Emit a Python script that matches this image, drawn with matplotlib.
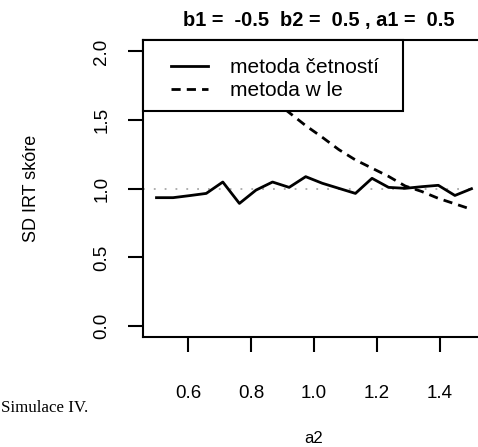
import numpy as np
import matplotlib
matplotlib.use("Agg")
import matplotlib.pyplot as plt
from matplotlib.patches import Rectangle

plt.rcParams['font.family'] = ['Liberation Sans', 'DejaVu Sans']

# a2 grid, 20 points from 0.5 to 1.5
a2 = [0.5, 0.5526, 0.6053, 0.6579, 0.7105, 0.7632, 0.8158, 0.8684, 0.9211, 0.9737,
      1.0263, 1.0789, 1.1316, 1.1842, 1.2368, 1.2895, 1.3421, 1.3947, 1.4474, 1.5]
sd_cetnosti = [0.935, 0.935, 0.95, 0.966, 1.049, 0.893, 0.99, 1.049, 1.01, 1.088,
               1.04, 1.003, 0.966, 1.076, 1.01, 1.003, 1.015, 1.025, 0.951, 1.0]
sd_wle = [2.36, 2.25, 2.14, 2.04, 1.94, 1.85, 1.75, 1.65, 1.555, 1.46,
          1.375, 1.285, 1.21, 1.15, 1.09, 1.02, 0.98, 0.93, 0.89, 0.85]
xticks = [0.6, 0.8, 1.0, 1.2, 1.4]
yticks = [0.0, 0.5, 1.0, 1.5, 2.0]
legend_labels = ["metoda četností", "metoda w le"]
title = "b1 =  -0.5  b2 =  0.5 , a1 =  0.5"

fig = plt.figure(figsize=(4.78, 4.47), dpi=100)
ax = fig.add_axes([0.3002, 0.2461, 0.7123, 0.6633])

ax.axhline(1.0, color="#a8a8a8", lw=1.3, linestyle=(0, (1, 5)), zorder=1)
ax.plot(a2, sd_cetnosti, color="black", lw=2, label=legend_labels[0], zorder=2)
ax.plot(a2, sd_wle, color="black", lw=2, dashes=(3.3, 2.2), label=legend_labels[1], zorder=2)

ax.set_xlim(0.4587, 1.5397)
ax.set_ylim(-0.08, 2.08)
ax.set_xticks(xticks)
ax.set_xticklabels(["%.1f" % v for v in xticks])
ax.set_yticks(yticks)
ax.set_yticklabels(["%.1f" % v for v in yticks], rotation=90, va="center")
ax.tick_params(axis="both", direction="out", length=11, width=1.5, labelsize=13.5)
ax.tick_params(axis="x", pad=23.5)
ax.tick_params(axis="y", pad=13)
for s in ax.spines.values():
    s.set_linewidth(1.5)

ax.set_xlabel("a2", fontsize=12, va="center")
ax.xaxis.set_label_coords(0.5, -0.342)
ax.set_ylabel("SD IRT skóre", fontsize=13, va="center")
ax.yaxis.set_label_coords(-0.33, 0.5)

ax.text(0.515, 1.066, title, transform=ax.transAxes, ha="center", va="center",
        fontsize=14.4, fontweight="bold")

# legend box (white, covers the lines like R's legend)
ax.add_patch(Rectangle((0, 0.762), 0.762, 0.238, transform=ax.transAxes,
                       facecolor="white", edgecolor="black", lw=1.5,
                       zorder=3, clip_on=False))
leg = ax.legend(loc="upper left", bbox_to_anchor=(0.056, 0.968), borderaxespad=0,
                frameon=False, fontsize=15, handlelength=1.78, handletextpad=1.06,
                borderpad=0.4, labelspacing=0.2)
leg.set_zorder(4)

fig.text(0.002, 0.087, "Simulace IV.", family="Liberation Serif", fontsize=12.2,
         va="center", ha="left")

fig.savefig("out.png", dpi=100)
